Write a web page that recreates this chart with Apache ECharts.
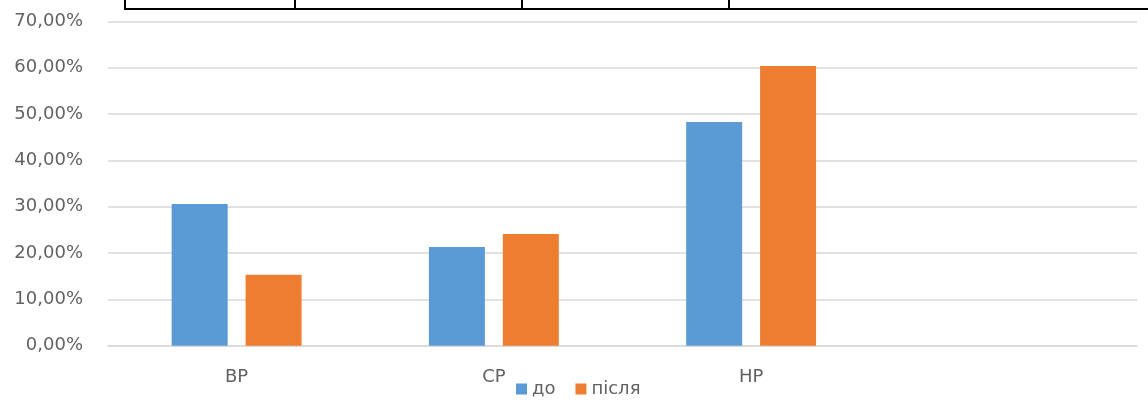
<!DOCTYPE html>
<html>
<head>
<meta charset="utf-8">
<script src="https://cdn.jsdelivr.net/npm/echarts@6/dist/echarts.min.js"></script>
<style>
html,body{margin:0;padding:0;background:#fff;}
#chart{width:1148px;height:416px;}
</style>
</head>
<body>
<div id="chart"></div>
<script>
var categories = ['ВР', 'СР', 'НР', ''];
var seriesNames = ['до', 'після'];
var valuesBefore = [30.6, 21.3, 48.3, null];
var valuesAfter = [15.3, 24.1, 60.4, null];
var yTicks = { min: 0, max: 70, interval: 10 };

var FONT = 'DejaVu Sans';
var TEXT = '#626262';

var chart = echarts.init(document.getElementById('chart'));
chart.setOption({
  animation: false,
  backgroundColor: '#ffffff',
  color: ['#5B9BD5', '#ED7D31'],
  grid: { left: 108, right: 11, top: 21.5, bottom: 70.3, containLabel: false },
  legend: {
    data: seriesNames,
    left: 511, top: 375,
    itemWidth: 11, itemHeight: 11, itemGap: 20,
    icon: 'rect',
    textStyle: { fontFamily: FONT, fontSize: 18, color: TEXT, padding: [7, 0, 0, 0] }
  },
  xAxis: {
    type: 'category',
    data: categories,
    axisLine: { lineStyle: { color: '#d9d9d9', width: 1.5 } },
    axisTick: { show: false },
    axisLabel: { fontFamily: FONT, fontSize: 18, color: TEXT, margin: 23 }
  },
  yAxis: {
    type: 'value',
    min: yTicks.min, max: yTicks.max, interval: yTicks.interval,
    axisLine: { show: false },
    axisTick: { show: false },
    splitLine: { lineStyle: { color: '#d9d9d9', width: 1.5 } },
    axisLabel: {
      fontFamily: FONT, fontSize: 18, color: TEXT, margin: 25,
      formatter: function (v) { return v.toFixed(2).replace('.', ',') + '%'; }
    }
  },
  series: [
    { name: seriesNames[0], type: 'bar', data: valuesBefore, barWidth: 56, barGap: '32%' },
    { name: seriesNames[1], type: 'bar', data: valuesAfter, barWidth: 56, barGap: '32%' }
  ],
  graphic: [
    { type: 'line', shape: { x1: 124, y1: 9, x2: 1148, y2: 9 }, style: { stroke: '#000', lineWidth: 2 } },
    { type: 'line', shape: { x1: 125, y1: 0, x2: 125, y2: 9 }, style: { stroke: '#000', lineWidth: 2 } },
    { type: 'line', shape: { x1: 295, y1: 0, x2: 295, y2: 9 }, style: { stroke: '#000', lineWidth: 2 } },
    { type: 'line', shape: { x1: 522, y1: 0, x2: 522, y2: 9 }, style: { stroke: '#000', lineWidth: 2 } },
    { type: 'line', shape: { x1: 729, y1: 0, x2: 729, y2: 9 }, style: { stroke: '#000', lineWidth: 2 } }
  ]
});
</script>
</body>
</html>
